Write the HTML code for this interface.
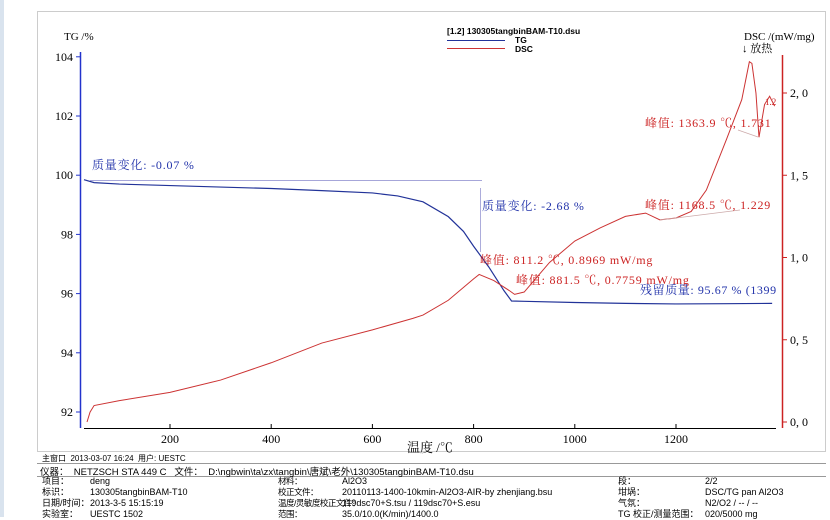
<!DOCTYPE html>
<html><head><meta charset="utf-8"><style>
body{margin:0;width:830px;height:517px;overflow:hidden;background:#fff;font-family:"Liberation Sans","Noto Sans CJK SC",sans-serif}
#wrap{position:relative;width:830px;height:517px}
.t{position:absolute;white-space:nowrap;font-size:10px;color:#000}
</style></head><body><div id="wrap">
<div style="position:absolute;left:0;top:0;width:4px;height:517px;background:#d9e3ee"></div>
<svg id="chart" width="830" height="517" style="position:absolute;left:0;top:0"></svg>
<div class="t" style="left:42px;top:453px;font-size:8px">主窗口 &nbsp;2013-03-07 16:24 &nbsp;用户: UESTC</div>
<div class="t" style="left:40px;top:464px;font-size:9.5px">仪器： &nbsp;NETZSCH STA 449 C &nbsp; 文件： &nbsp;D:\ngbwin\ta\zx\tangbin\唐斌\老外\130305tangbinBAM-T10.dsu</div>
<div class="t" style="left:42px;top:476px;font-size:9px;line-height:11px">项目：<br>标识：<br>日期/时间：<br>实验室：</div>
<div class="t" style="left:90px;top:476px;font-size:9px;line-height:11px">deng<br>130305tangbinBAM-T10<br>2013-3-5 15:15:19<br>UESTC 1502</div>
<div class="t" style="left:278px;top:476px;font-size:8.5px;line-height:11px;letter-spacing:-0.5px">材料：<br>校正文件：<br>温度/灵敏度校正文件：<br>范围：</div>
<div class="t" style="left:342px;top:476px;font-size:9px;line-height:11px">Al2O3<br>20110113-1400-10kmin-Al2O3-AIR-by zhenjiang.bsu<br>119dsc70+S.tsu / 119dsc70+S.esu<br>35.0/10.0(K/min)/1400.0</div>
<div class="t" style="left:618px;top:476px;font-size:9px;line-height:11px">段：<br>坩埚：<br>气氛：<br>TG 校正/测量范围：</div>
<div class="t" style="left:705px;top:476px;font-size:9px;line-height:11px">2/2<br>DSC/TG pan Al2O3<br>N2/O2 / -- / --<br>020/5000 mg</div>
</div>
<script>
const tgTemps=[30,50,100,200,300,400,500,600,650,700,750,780,800,830,860,875,900,1000,1100,1200,1300,1390];
const tgValues=[99.85,99.75,99.7,99.65,99.6,99.55,99.48,99.4,99.3,99.1,98.6,98.1,97.6,96.9,96.1,95.75,95.74,95.7,95.67,95.65,95.66,95.67];
const dscTemps=[36,42,50,100,200,300,400,500,600,680,700,750,800,811,840,870,881,900,950,1000,1050,1100,1140,1168,1200,1230,1260,1300,1330,1345,1350,1358,1364,1375,1385,1395];
const dscValues=[0.0,0.06,0.1,0.13,0.18,0.255,0.36,0.48,0.56,0.63,0.65,0.74,0.87,0.897,0.86,0.80,0.776,0.79,0.97,1.10,1.18,1.25,1.27,1.229,1.24,1.28,1.41,1.72,1.96,2.19,2.18,2.0,1.731,1.93,1.98,1.92];
const xTicks=[200,400,600,800,1000,1200];
const tgTicks=[92,94,96,98,100,102,104];
const dscTicks=[0.0,0.5,1.0,1.5,2.0];
const X=t=>170+(t-200)*0.506, YT=v=>412-(v-92)*29.6, YD=v=>422-v*164.5;
const svg=document.getElementById('chart'), NS='http://www.w3.org/2000/svg';
function el(tag,a,txt){const e=document.createElementNS(NS,tag);for(const k in a)e.setAttribute(k,a[k]);if(txt!==undefined)e.textContent=txt;svg.appendChild(e);return e;}
let e;
e=el('rect',{x:37.5,y:11.5,width:788,height:440,fill:'none',stroke:'#ccc'});


[463,476].forEach(y=>{e=el('line',{x1:37,x2:826,y1:y+.5,y2:y+.5,stroke:'#999'});

});
e=el('line',{x1:80.5,x2:80.5,y1:52,y2:428,stroke:'#2233cc','stroke-width':1.5});


e=el('line',{x1:782.5,x2:782.5,y1:55,y2:428,stroke:'#cc2222','stroke-width':1.5});


e=el('line',{x1:84,x2:776,y1:428.5,y2:428.5,stroke:'#000'});


xTicks.forEach(t=>{e=el('line',{x1:X(t),x2:X(t),y1:424,y2:428,stroke:'#000'});


e=el('text',{x:X(t),y:443,'font-size':12,'text-anchor':'middle','font-family':'Liberation Serif,serif'},t);

});
tgTicks.forEach(v=>{e=el('line',{x1:76,x2:80,y1:YT(v),y2:YT(v),stroke:'#2233cc'});


e=el('text',{x:73,y:YT(v)+4,'font-size':12,'text-anchor':'end','font-family':'Liberation Serif,serif'},v);

});
dscTicks.forEach(v=>{e=el('line',{x1:783,x2:787,y1:YD(v),y2:YD(v),stroke:'#cc2222'});


e=el('text',{x:790,y:YD(v)+4,'font-size':12,'font-family':'Liberation Serif,serif'},v.toFixed(1).replace('.',', '));

});
e=el('polyline',{points:tgTemps.map((t,i)=>X(t)+','+YT(tgValues[i])).join(' '),fill:'none',stroke:'#223399','stroke-width':1.2});


e=el('polyline',{points:dscTemps.map((t,i)=>X(t)+','+YD(dscValues[i])).join(' '),fill:'none',stroke:'#cc3333','stroke-width':1});


e=el('line',{x1:90,x2:482,y1:180.5,y2:180.5,stroke:'#8888cc','stroke-width':.7});


e=el('line',{x1:480.5,x2:480.5,y1:188,y2:252,stroke:'#8888cc','stroke-width':.7});


e=el('line',{x1:660,x2:740,y1:220,y2:210,stroke:'#ccaaaa','stroke-width':.7});


e=el('line',{x1:738,x2:758,y1:130,y2:137,stroke:'#ccaaaa','stroke-width':.7});


const labels=[
 [64,40,'TG /%','#000',11,'tg-axis-title',0],
 [744,40,'DSC /(mW/mg)','#000',11,'dsc-axis-title',0],
 [742,52,'↓ 放热','#000',11,'exo-direction',0],
 [407,452,'温度 /℃','#000',13,'x-axis-title',0],
 [92,169,'质量变化: -0.07 %','#2233aa',12,'mass-change-1',0.8],
 [482,210,'质量变化: -2.68 %','#2233aa',12,'mass-change-2',0.8],
 [480,264,'峰值: 811.2 ℃, 0.8969 mW/mg','#cc2222',12,'peak-811',0.8],
 [516,284,'峰值: 881.5 ℃, 0.7759 mW/mg','#cc2222',12,'peak-881',0.8],
 [640,294,'残留质量: 95.67 % (1399','#2233aa',12,'residual-mass',0.6],
 [645,209,'峰值: 1168.5 ℃, 1.229','#cc2222',12,'peak-1168',0.8],
 [645,127,'峰值: 1363.9 ℃, 1.731','#cc2222',12,'peak-1363',0.8],
 [765,105,'1.2','#cc2222',9,'dsc-end-label',0],
];
labels.forEach(l=>{e=el('text',{x:l[0],y:l[1],fill:l[3],'font-size':l[4],'letter-spacing':l[6],'font-family':'Liberation Serif,Noto Serif CJK SC,serif'},l[2]);

});
e=el('text',{x:447,y:34,'font-size':8.5,'font-weight':'bold'},'[1.2] 130305tangbinBAM-T10.dsu');


e=el('line',{x1:447,x2:505,y1:40.5,y2:40.5,stroke:'#223399'});


e=el('text',{x:515,y:43,'font-size':8.5,'font-weight':'bold'},'TG');


e=el('line',{x1:447,x2:505,y1:48.5,y2:48.5,stroke:'#cc3333'});


e=el('text',{x:515,y:52,'font-size':8.5,'font-weight':'bold'},'DSC');


</script></body></html>
